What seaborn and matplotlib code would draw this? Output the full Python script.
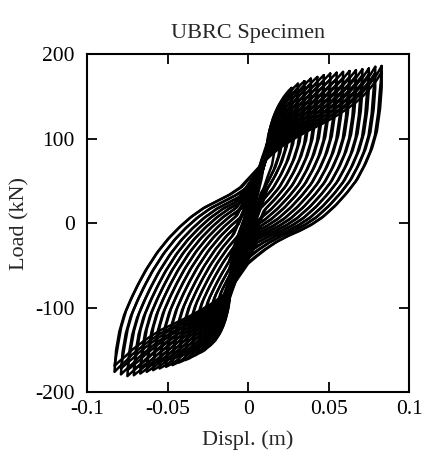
import numpy as np
import pandas as pd
import matplotlib
matplotlib.use('Agg')
import matplotlib.pyplot as plt
import seaborn as sns

# peak displacement of every amplitude (m) and its peak loads (kN)
cycle_disp = [0.015, 0.019, 0.023, 0.027, 0.031, 0.035, 0.039, 0.043, 0.047,
              0.051, 0.055, 0.059, 0.063, 0.067, 0.071, 0.075, 0.079, 0.083]
pos_peak_load = [118, 135, 150, 160, 165, 168, 171, 173, 175,
                 177, 178, 179, 180, 181, 182, 183, 185, 186]
neg_peak_load = [-112, -128, -140, -148, -154, -158, -162, -165, -168,
                 -170, -172, -174, -176, -178, -180, -181, -179, -176]
# every amplitude is run twice: the second cycle peaks lower and unloads a bit earlier
repeat_drop = 7
repeat_shift = 0.0012

# first small elastic cycles in the middle of the plot
small_disp = [0.003, 0.006, 0.009, 0.012]
small_pos_load = [35, 58, 78, 96]
small_neg_load = [-33, -55, -75, -92]
small_u = [1, 0.7, 0.4, 0.15, -0.1, -0.35, -0.65, -1, -0.7, -0.4, -0.15, 0.1, 0.35, 0.65, 1]
small_v = [1, 0.55, 0.25, 0.0, -0.25, -0.5, -0.75, -1, -0.55, -0.25, 0.0, 0.25, 0.5, 0.75, 1]

# outermost loop
# unloading from + peak (right lobe)
unl_pos_x = [0.083, 0.083, 0.082, 0.080, 0.077, 0.073, 0.068, 0.062, 0.055, 0.047,
             0.040, 0.033, 0.026, 0.018, 0.011, 0.005, 0.000, -0.004, -0.008]
unl_pos_y = [185, 160, 135, 108, 88, 70, 52, 37, 22, 8,
             -1, -8, -14, -22, -31, -40, -48, -55, -63]
# unloading from - peak (left lobe)
unl_neg_x = [-0.083, -0.082, -0.080, -0.077, -0.073, -0.069, -0.064, -0.057, -0.050,
             -0.043, -0.036, -0.028, -0.020, -0.012, -0.005, 0.002, 0.006, 0.009]
unl_neg_y = [-178, -152, -130, -110, -92, -76, -58, -37, -20,
             -6, 6, 17, 25, 33, 42, 52, 60, 67]
# reloading towards + peak (lower edge of the upper band)
rel_pos_x = [0.011, 0.016, 0.022, 0.030, 0.038, 0.046, 0.054, 0.061, 0.067,
             0.072, 0.076, 0.080, 0.083]
rel_pos_y = [75, 84, 93, 103, 112, 120, 129, 138, 147, 156, 165, 175, 185]
# reloading towards - peak (upper edge of the lower band)
rel_neg_x = [-0.011, -0.016, -0.022, -0.030, -0.038, -0.046, -0.054, -0.061, -0.067,
             -0.072, -0.076, -0.080, -0.083]
rel_neg_y = [-78, -87, -96, -106, -115, -123, -131, -140, -149, -157, -165, -172, -178]
# reloading of an early cycle, along the envelope (upper-left / lower-right edges)
env_pos_x = [0.011, 0.0115, 0.0122, 0.0131, 0.0142, 0.0155, 0.017, 0.0187, 0.0204,
             0.022, 0.0236, 0.0253, 0.027]
env_pos_y = [75, 84, 94, 104, 114, 123, 131, 138, 144, 149, 153, 157, 160]
env_neg_x = [-0.011, -0.0115, -0.0122, -0.0131, -0.0142, -0.0155, -0.017, -0.0187,
             -0.0204, -0.022, -0.0236, -0.0253, -0.027]
env_neg_y = [-78, -86, -95, -104, -113, -121, -128, -134, -139, -142, -145, -147, -148]
# edges of the pinched band through the origin
band_right = [(0.0, -27), (0.011, 64)]
band_left = [(-0.010, -66), (0.0, 33)]

x_ticks = [-0.1, -0.05, 0, 0.05, 0.1]
x_tick_labels = ['-0.1', '-0.05', '0', '0.05', '0.1']
y_ticks = [-200, -100, 0, 100, 200]
y_tick_labels = ['-200', '-100', '0', '100', '200']


def edge_x(edge, y):
    (x0, y0), (x1, y1) = edge
    return x0 + (y - y0) * (x1 - x0) / (y1 - y0)


def unloading(tx, ty, d, p, shift, edge, side):
    # outer unloading branch slid to this cycle's peak, cut at the pinched band
    tx, ty = np.array(tx), np.array(ty)
    xs_ = tx + (d - tx[0])
    xs_[1:] -= shift
    ys_ = ty[-1] + (ty - ty[-1]) * (p - ty[-1]) / (ty[0] - ty[-1])
    xs, ys = [], []
    for x, y in zip(xs_, ys_):
        e = edge_x(edge, y)
        if (side > 0 and x < e) or (side < 0 and x > e):
            break
        xs.append(x)
        ys.append(y)
    return xs, ys


def unit(a):
    a = np.array(a)
    return (a - a[0]) / (a[-1] - a[0])


def reloading(tx, ty, ex, ey, d, p):
    # reloading between the early (envelope) and the outer branch, ending at the peak
    w = min(max((abs(d) - abs(ex[-1])) / (abs(tx[-1]) - abs(ex[-1])), 0), 1)
    u = (1 - w) * unit(ex) + w * unit(tx)
    v = (1 - w) * unit(ey) + w * unit(ty)
    return list(tx[0] + u * (d - tx[0])), list(ty[0] + v * (p - ty[0]))


rows = []
n = 0
for i, d in enumerate(small_disp):
    u, v = np.array(small_u), np.array(small_v)
    ys = np.where(v > 0, v * small_pos_load[i], -v * small_neg_load[i])
    rows.append(pd.DataFrame({'displ': u * d, 'load': ys, 'cycle': n}))
    n += 1

for i, d in enumerate(cycle_disp):
    for rep in range(2):
        pp = pos_peak_load[i] - rep * repeat_drop
        pn = neg_peak_load[i] + rep * repeat_drop
        sh = rep * repeat_shift
        ax_, ay_ = unloading(unl_pos_x, unl_pos_y, d, pp, sh, band_right, +1)
        bx_, by_ = reloading(rel_neg_x, rel_neg_y, env_neg_x, env_neg_y, -d, pn)
        cx_, cy_ = unloading(unl_neg_x, unl_neg_y, -d, pn, -sh, band_left, -1)
        dx_, dy_ = reloading(rel_pos_x, rel_pos_y, env_pos_x, env_pos_y, d, pp)
        rows.append(pd.DataFrame({'displ': ax_ + bx_ + cx_ + dx_,
                                  'load': ay_ + by_ + cy_ + dy_, 'cycle': n}))
        n += 1
df = pd.concat(rows, ignore_index=True)

sns.set_style('ticks')
plt.rcParams['font.family'] = ['Liberation Serif', 'DejaVu Serif']
plt.rcParams['axes.unicode_minus'] = False

fig = plt.figure(figsize=(4.23, 4.63), dpi=100)
ax = fig.add_axes([0.206, 0.153, 0.761, 0.730])

sns.lineplot(data=df, x='displ', y='load', units='cycle', estimator=None,
             sort=False, color='black', lw=1.8, ax=ax)

ax.set_xlim(-0.1, 0.1)
ax.set_ylim(-200, 200)
ax.set_xticks(x_ticks)
ax.set_xticklabels(x_tick_labels)
ax.set_yticks(y_ticks)
ax.set_yticklabels(y_tick_labels)
ax.tick_params(direction='in', top=True, right=True, length=7, width=1.3,
               labelsize=15.5, colors='black')
ax.tick_params(axis='y', pad=9)
ax.tick_params(axis='x', pad=6)
for s in ax.spines.values():
    s.set_linewidth(1.5)
    s.set_color('black')

ax.set_xlabel('Displ. (m)', fontsize=16, labelpad=8)
ax.set_ylabel('Load (kN)', fontsize=16, labelpad=4)
ax.set_title('UBRC Specimen', fontsize=16, pad=12)

fig.savefig('out.png', dpi=100, facecolor='white')
